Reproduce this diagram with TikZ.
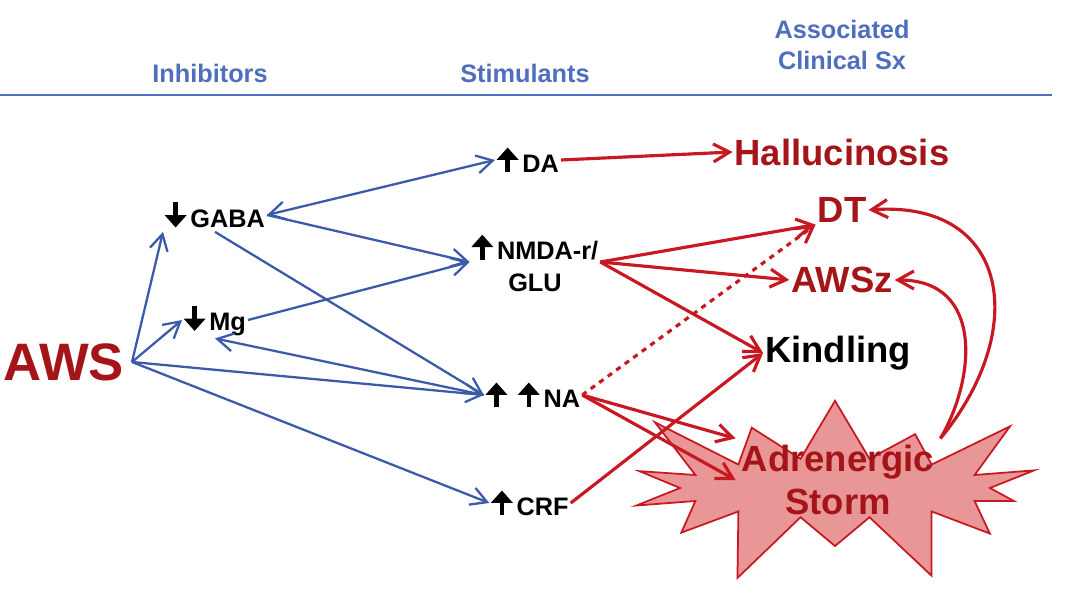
\documentclass[tikz,border=0pt]{standalone}
\usepackage{fontspec}
\setmainfont{Liberation Sans}
\usetikzlibrary{arrows.meta,shapes.symbols,positioning}

\definecolor{hdblue}{RGB}{80,110,190}
\definecolor{lnblue}{RGB}{60,90,170}
\definecolor{dkred}{RGB}{165,20,25}
\definecolor{lnred}{RGB}{200,25,35}
\definecolor{stormfill}{RGB}{232,150,150}

\newcommand{\upar}{\tikz[baseline=0pt,x=1cm,y=1cm]\draw[black,line width=2.6pt,-{Triangle[length=7pt,width=12pt]}] (0,0) -- (0,0.5);\,}
\newcommand{\dnar}{\tikz[baseline=0pt,x=1cm,y=1cm]\draw[black,line width=2.6pt,-{Triangle[length=7pt,width=12pt]}] (0,0.5) -- (0,0);\,}

\begin{document}
\begin{tikzpicture}[
    x=0.02cm, y=-0.02cm,
    >={Straight Barb[length=3.2mm,width=3.6mm]},
    head/.style = {text=hdblue, font=\bfseries\Large, align=center},
    item/.style = {font=\bfseries\Large, align=center, inner sep=1pt},
    sx/.style = {text=dkred, font=\bfseries\huge, inner sep=1pt},
    blu/.style = {->, draw=lnblue, line width=1.3pt},
    rd/.style = {->, draw=lnred, line width=1.8pt},
  ]
    \useasboundingbox (0,0) rectangle (1078,607);

    % headers
    \node[head] (inh) at (210,73) {Inhibitors};
    \node[head] (sti) at (525,73) {Stimulants};
    \node[head] (ass) at (842,45) {Associated\\Clinical Sx};
    \draw[hdblue, line width=0.8pt] (0,95) -- (1052,95);

    % storm
    \node[starburst, starburst points=14, starburst point height=1.6cm,
          fill=stormfill, draw=lnred, line width=1pt,
          minimum width=9.4cm, minimum height=4.4cm] (storm) at (835,488) {};
    \node[text=dkred, font=\bfseries\huge, align=center] (stormtxt) at (838,480) {Adrenergic\\Storm};

    % nodes
    \node[text=dkred, font=\bfseries\fontsize{30}{32}\selectfont, inner sep=0pt] (aws) at (64,362) {AWS};
    \node[item] (gaba) at (215,215) {\dnar GABA};
    \node[item] (mg)   at (215,320) {\dnar Mg};
    \node[item] (da)   at (528,160) {\upar DA};
    \node[item] (nmda) at (535,262) {\upar NMDA-r/\\GLU};
    \node[item] (na)   at (533,395) {\upar\ \upar NA};
    \node[item] (crf)  at (530,503) {\upar CRF};

    \node[sx] (hall) at (842,152) {Hallucinosis};
    \node[sx] (dt)   at (842,210) {DT};
    \node[sx] (awsz) at (842,280) {AWSz};
    \node[sx, text=black] (kind) at (838,353) {Kindling};

    % blue connectors
    \coordinate (awso) at (132,362);
    \draw[blu] (awso) -- (gaba.south west);
    \draw[blu] (awso) -- (mg.west);
    \draw[blu] (awso) -- (na.west);
    \draw[blu] (awso) -- (crf.west);
    \draw[blu, <->] (gaba.east) -- (da.west);
    \draw[blu] (gaba.east) -- (nmda.west);
    \draw[blu] (gaba.south) -- (na.west);
    \draw[blu] (mg.east) -- (nmda.west);
    \draw[blu] (na.west) -- (mg.south);

    % red connectors
    \draw[rd] (da.east) -- (hall.west);
    \draw[rd] (nmda.east) -- (dt.south west);
    \draw[rd] (nmda.east) -- (awsz.west);
    \draw[rd] (nmda.east) -- (kind.west);
    \draw[rd, dashed] (na.east) -- (dt.south west);
    \draw[rd] (na.east) -- (stormtxt.north west);
    \draw[rd] (na.east) -- (stormtxt.west);
    \draw[rd] (crf.east) -- (kind.west);
    \draw[rd] (stormtxt.north east) .. controls (1030,330) and (1010,200) .. (dt.east);
    \draw[rd] (stormtxt.north east) .. controls (975,380) and (985,280) .. (awsz.east);
\end{tikzpicture}
\end{document}
